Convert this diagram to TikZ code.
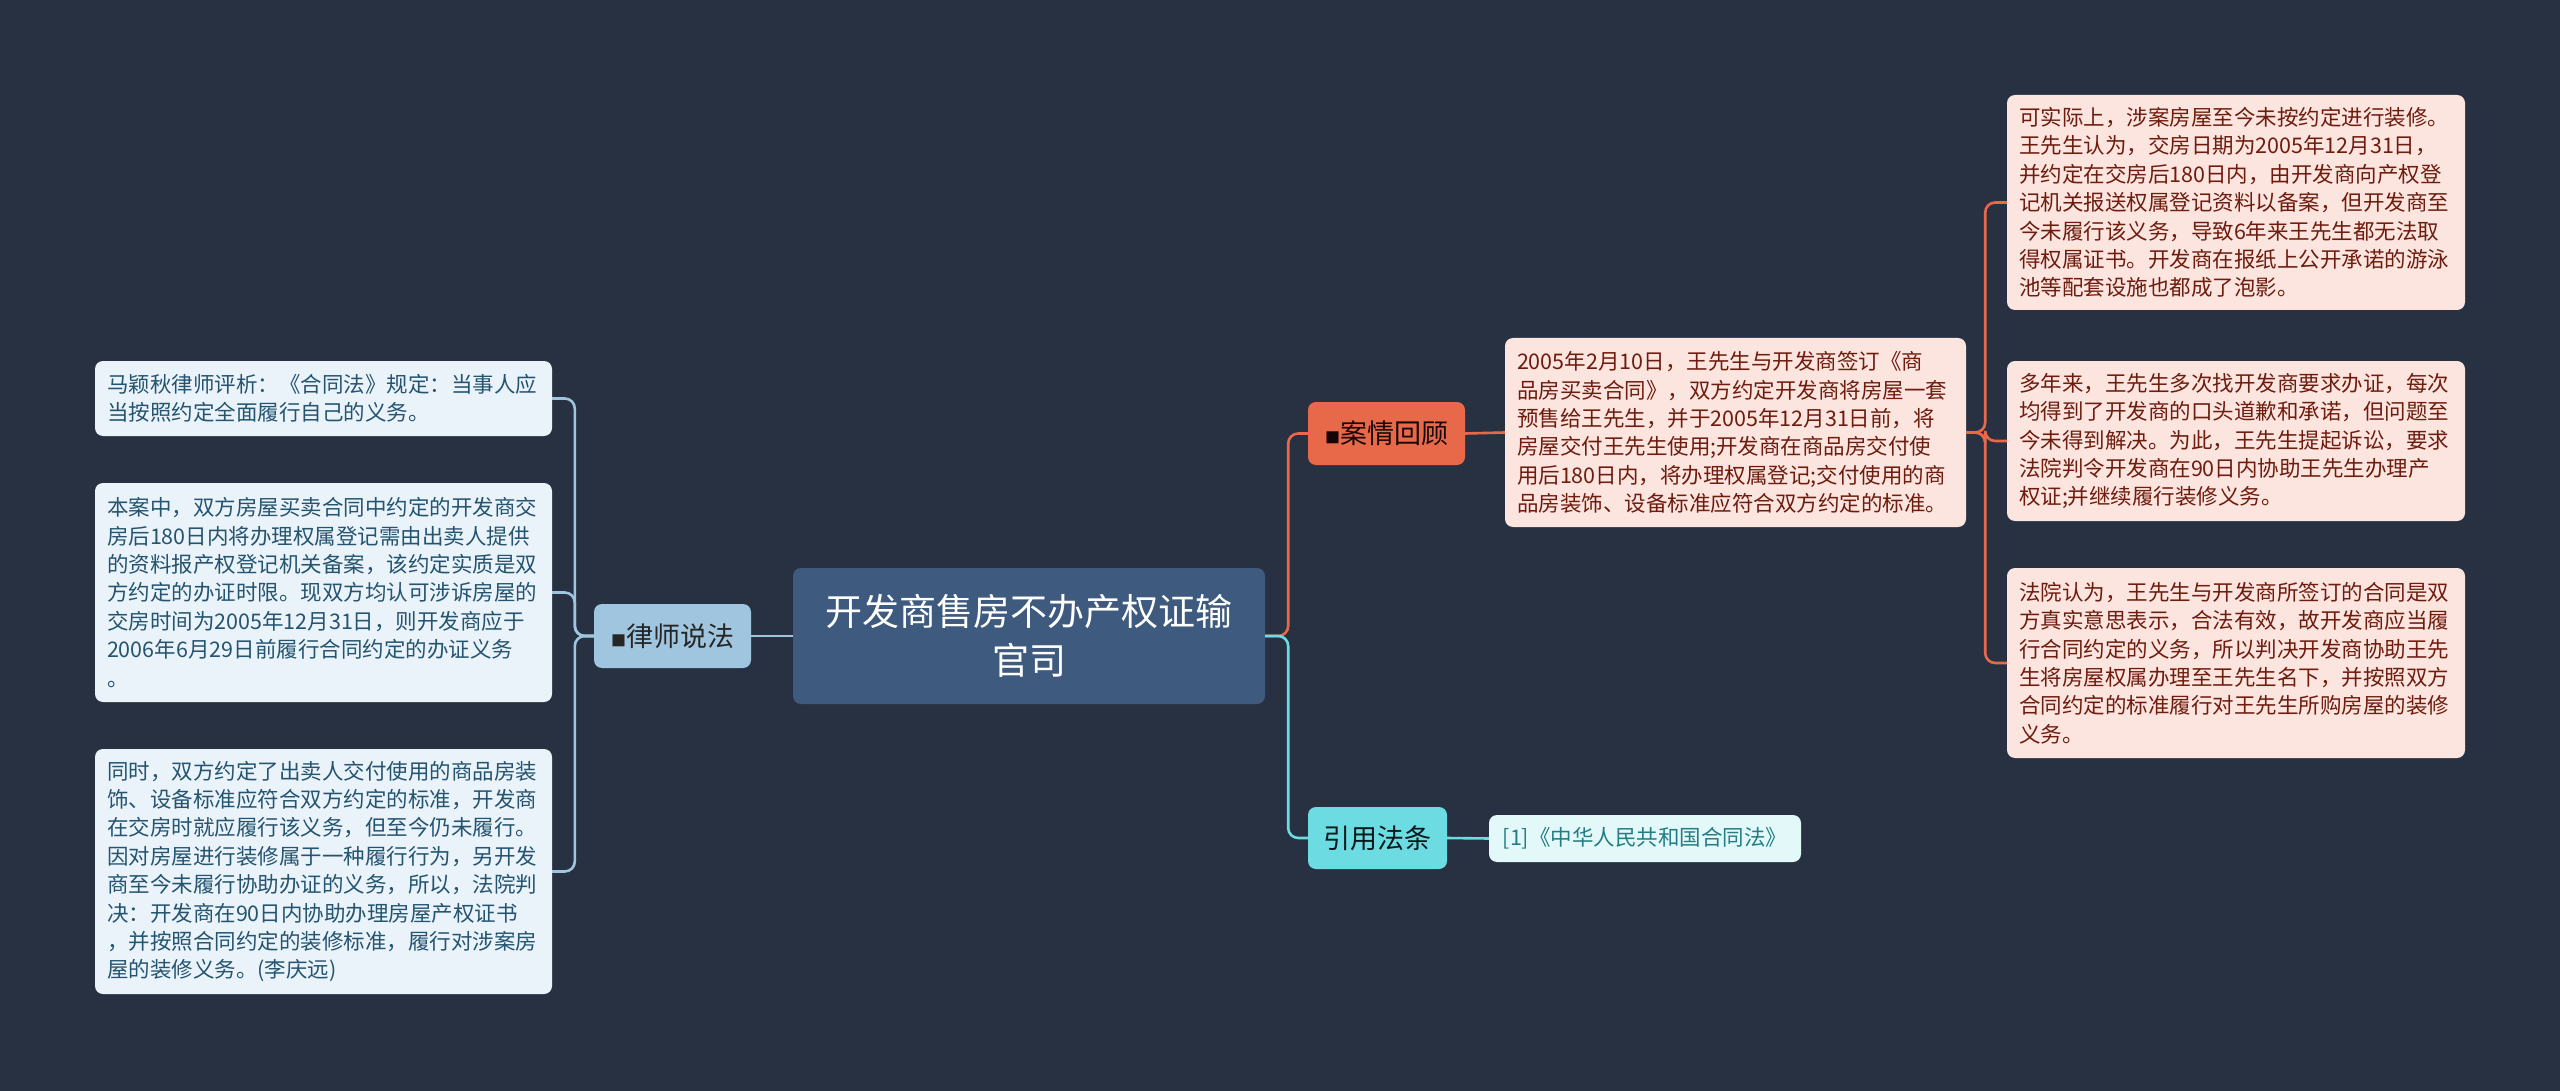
\documentclass[tikz,border=0pt]{standalone}
\usepackage{fontspec}
\setmainfont{Noto Sans CJK SC}
\usepackage{tikz}
\usetikzlibrary{positioning}

\definecolor{bgnavy}{RGB}{40,49,66}
\definecolor{rootfill}{RGB}{62,90,127}
\definecolor{lawfill}{RGB}{160,197,222}
\definecolor{lawleaf}{RGB}{234,243,249}
\definecolor{lawtext}{RGB}{36,84,112}
\definecolor{casefill}{RGB}{232,105,74}
\definecolor{caseleaf}{RGB}{252,228,223}
\definecolor{casetext}{RGB}{110,28,14}
\definecolor{citefill}{RGB}{108,220,226}
\definecolor{citeleaf}{RGB}{226,248,249}
\definecolor{citetext}{RGB}{36,124,132}

\tikzset{
  box/.style={rounded corners=8pt, inner sep=0pt, align=center},
  leafbox/.style={box, align=left, text width=433pt, inner xsep=12pt,
    font=\fontsize{21.5}{28.4}\selectfont},
  branchbox/.style={box, font=\fontsize{27}{32}\selectfont},
  lawline/.style={draw=lawfill, line width=2.6pt, rounded corners=10pt},
  caseline/.style={draw=casefill, line width=2.6pt, rounded corners=10pt},
  citeline/.style={draw=citefill, line width=2.6pt, rounded corners=10pt}
}
\newcommand{\blk}{{\fontsize{15}{15}\selectfont ■}}

\begin{document}
\begin{tikzpicture}[x=1pt, y=-1pt]
% Background
\fill[bgnavy] (0,0) rectangle (2560,1091);
\useasboundingbox (0,0) rectangle (2560,1091);

% Central topic
\node[box, fill=rootfill, text=white, minimum width=472pt, minimum height=136pt,
  font=\fontsize{37}{49}\selectfont] (root) at (1029,636)
  {开发商售房不办产权证输\\官司};

% Left branch: lawyer's view
\node[branchbox, fill=lawfill, text=black!85, minimum width=157pt, minimum height=64pt]
  (lawyer) at (672.5,636) {\blk 律师说法};
\node[leafbox, fill=lawleaf, text=lawtext, minimum height=75pt] (lw1) at (323.5,398.5)
  {马颖秋律师评析：《合同法》规定：当事人应\\当按照约定全面履行自己的义务。};
\node[leafbox, fill=lawleaf, text=lawtext, minimum height=219pt] (lw2) at (323.5,592.5)
  {本案中，双方房屋买卖合同中约定的开发商交\\房后180日内将办理权属登记需由出卖人提供\\的资料报产权登记机关备案，该约定实质是双\\方约定的办证时限。现双方均认可涉诉房屋的\\交房时间为2005年12月31日，则开发商应于\\2006年6月29日前履行合同约定的办证义务\\。};
\node[leafbox, fill=lawleaf, text=lawtext, minimum height=245pt] (lw3) at (323.5,871.5)
  {同时，双方约定了出卖人交付使用的商品房装\\饰、设备标准应符合双方约定的标准，开发商\\在交房时就应履行该义务，但至今仍未履行。\\因对房屋进行装修属于一种履行行为，另开发\\商至今未履行协助办证的义务，所以，法院判\\决：开发商在90日内协助办理房屋产权证书\\，并按照合同约定的装修标准，履行对涉案房\\屋的装修义务。(李庆远)};

% Right branch: case review
\node[branchbox, fill=casefill, text=black!80!casetext, minimum width=157pt, minimum height=63pt]
  (review) at (1386.5,433.5) {\blk 案情回顾};
\node[leafbox, fill=caseleaf, text=casetext, minimum height=189pt, text width=437pt] (facts) at (1735.5,432.5)
  {2005年2月10日，王先生与开发商签订《商\\品房买卖合同》，双方约定开发商将房屋一套\\预售给王先生，并于2005年12月31日前，将\\房屋交付王先生使用;开发商在商品房交付使\\用后180日内，将办理权属登记;交付使用的商\\品房装饰、设备标准应符合双方约定的标准。};
\node[leafbox, fill=caseleaf, text=casetext, minimum height=215pt, text width=434pt] (rv1) at (2236,202.5)
  {可实际上，涉案房屋至今未按约定进行装修。\\王先生认为，交房日期为2005年12月31日，\\并约定在交房后180日内，由开发商向产权登\\记机关报送权属登记资料以备案，但开发商至\\今未履行该义务，导致6年来王先生都无法取\\得权属证书。开发商在报纸上公开承诺的游泳\\池等配套设施也都成了泡影。};
\node[leafbox, fill=caseleaf, text=casetext, minimum height=160pt, text width=434pt] (rv2) at (2236,441)
  {多年来，王先生多次找开发商要求办证，每次\\均得到了开发商的口头道歉和承诺，但问题至\\今未得到解决。为此，王先生提起诉讼，要求\\法院判令开发商在90日内协助王先生办理产\\权证;并继续履行装修义务。};
\node[leafbox, fill=caseleaf, text=casetext, minimum height=190pt, text width=434pt] (rv3) at (2236,663)
  {法院认为，王先生与开发商所签订的合同是双\\方真实意思表示，合法有效，故开发商应当履\\行合同约定的义务，所以判决开发商协助王先\\生将房屋权属办理至王先生名下，并按照双方\\合同约定的标准履行对王先生所购房屋的装修\\义务。};

% Right branch: cited law
\node[branchbox, fill=citefill, text=black!80!citetext, minimum width=139pt, minimum height=62pt]
  (cite) at (1377.5,838) {引用法条};
\node[box, fill=citeleaf, text=citetext, minimum width=312pt, minimum height=47pt,
  font=\fontsize{21.5}{26}\selectfont] (law) at (1645,838.5)
  {[1]《中华人民共和国合同法》};

% Connectors on the left
\draw[lawline] (root.west) -- (lawyer.east);
\draw[lawline] (lawyer.west) -- ++(-19,0) |- (lw1.east);
\draw[lawline] (lawyer.west) -- ++(-19,0) |- (lw2.east);
\draw[lawline] (lawyer.west) -- ++(-19,0) |- (lw3.east);

% Connectors on the right
\draw[caseline] (root.east) -- ++(23,0) |- (review.west);
\draw[citeline] (root.east) -- ++(23,0) |- (cite.west);
\draw[caseline] (review.east) -- (facts.west);
\draw[caseline] (facts.east) -- ++(19,0) |- (rv1.west);
\draw[caseline] (facts.east) -- ++(19,0) |- (rv2.west);
\draw[caseline] (facts.east) -- ++(19,0) |- (rv3.west);
\draw[citeline] (cite.east) -- (law.west);
\end{tikzpicture}
\end{document}
